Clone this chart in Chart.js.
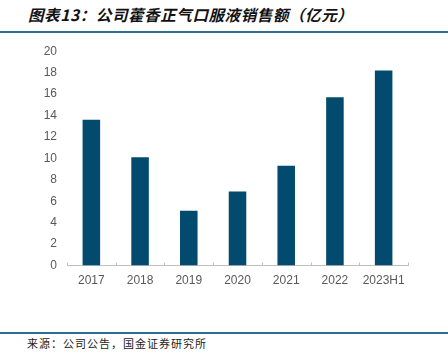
<!DOCTYPE html>
<html>
<head>
<meta charset="utf-8">
<script src="https://cdn.jsdelivr.net/npm/chart.js@4.4.0/dist/chart.umd.min.js"></script>
<style>
  html, body { margin: 0; padding: 0; background: #fff; }
  body { width: 448px; height: 357px; position: relative; overflow: hidden; font-family: "Noto Sans CJK SC", "Noto Sans", sans-serif; }
  #title { position: absolute; left: 28px; top: 3px; font-size: 15.5px; font-weight: bold; font-style: italic; color: #111; letter-spacing: 0.6px; white-space: nowrap; }
  #topline { position: absolute; left: 0; top: 31px; width: 448px; height: 2px; background: #2E6E8E; }
  #botline { position: absolute; left: 0; top: 332px; width: 448px; height: 1.5px; background: #2E6E8E; }
  #source { position: absolute; left: 27px; top: 335px; font-size: 11px; color: #222; letter-spacing: 1px; white-space: nowrap; }
  #wrap { position: absolute; left: 0; top: 34px; width: 448px; height: 266px; }
</style>
</head>
<body>
<div id="title">图表13：公司藿香正气口服液销售额（亿元）</div>
<div id="topline"></div>
<div id="wrap"><canvas id="c"></canvas></div>
<div id="botline"></div>
<div id="source">来源：公司公告，国金证券研究所</div>
<script>
const categories = ["2017", "2018", "2019", "2020", "2021", "2022", "2023H1"];
const sales = [13.6, 10.1, 5.1, 6.9, 9.3, 15.7, 18.2];
const yTicks = [0, 2, 4, 6, 8, 10, 12, 14, 16, 18, 20];

const tickMarks = {
  id: 'tickMarks',
  afterDraw(chart) {
    const x = chart.scales.x, ctx = chart.ctx;
    const y0 = x.top;
    ctx.save();
    ctx.strokeStyle = '#BFBFBF';
    ctx.lineWidth = 1;
    const n = categories.length;
    const w = (x.right - x.left) / n;
    for (let i = 0; i <= n; i++) {
      const px = Math.round(x.left + i * w) + 0.5;
      ctx.beginPath();
      ctx.moveTo(px, y0);
      ctx.lineTo(px, y0 - 3);
      ctx.stroke();
    }
    ctx.restore();
  }
};

new Chart(document.getElementById('c'), {
  type: 'bar',
  data: {
    labels: categories,
    datasets: [{
      data: sales,
      backgroundColor: '#024B6E',
      borderWidth: 0,
      barPercentage: 0.36,
      categoryPercentage: 1.0
    }]
  },
  options: {
    responsive: true,
    maintainAspectRatio: false,
    animation: false,
    layout: { padding: { top: 8, right: 40, left: 0, bottom: 0 } },
    plugins: { legend: { display: false }, tooltip: { enabled: false } },
    scales: {
      x: {
        offset: true,
        grid: { display: false, drawTicks: false },
        border: { display: true, color: '#BFBFBF', width: 1 },
        ticks: { color: '#595959', font: { family: 'Liberation Sans, Arial, sans-serif', size: 12 }, padding: 8, maxRotation: 0 },
        afterFit(s) { s.height = 34.5; }
      },
      y: {
        min: 0, max: 20,
        afterBuildTicks(s) { s.ticks = yTicks.map(v => ({ value: v })); },
        grid: { display: false, drawTicks: false },
        border: { display: false },
        ticks: { color: '#595959', font: { family: 'Liberation Sans, Arial, sans-serif', size: 12 }, padding: 10 },
        afterFit(s) { s.width = 67; }
      }
    }
  },
  plugins: [tickMarks]
});
</script>
</body>
</html>
